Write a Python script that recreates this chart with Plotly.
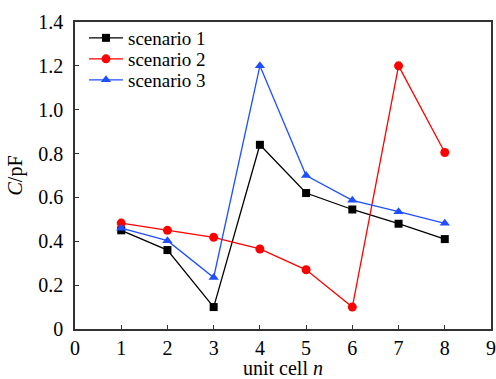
import plotly.graph_objects as go

cells = [1, 2, 3, 4, 5, 6, 7, 8]
scenario1 = [0.45, 0.36, 0.10, 0.84, 0.62, 0.545, 0.48, 0.41]
scenario2 = [0.483, 0.45, 0.418, 0.365, 0.27, 0.10, 1.20, 0.805]
scenario3 = [0.46, 0.403, 0.235, 1.20, 0.70, 0.587, 0.535, 0.482]
names = ["scenario 1", "scenario 2", "scenario 3"]

xtickvals = [0, 1, 2, 3, 4, 5, 6, 7, 8, 9]
ytickvals = [0, 0.2, 0.4, 0.6, 0.8, 1.0, 1.2, 1.4]
yticktext = ["0", "0.2", "0.4", "0.6", "0.8", "1.0", "1.2", "1.4"]

font = "Liberation Serif"
fs = 20

fig = go.Figure()
fig.add_trace(go.Scatter(x=cells, y=scenario1, name=names[0], mode="lines+markers",
                         line=dict(color="#000000", width=1.3), legend="legend",
                         marker=dict(symbol="square", size=8, color="#000000")))
fig.add_trace(go.Scatter(x=cells, y=scenario2, name=names[1], mode="lines+markers",
                         line=dict(color="#ff0000", width=1.3), legend="legend2",
                         marker=dict(symbol="circle", size=9, color="#ff0000")))
fig.add_trace(go.Scatter(x=cells, y=scenario3, name=names[2], mode="lines+markers",
                         line=dict(color="#1f4fff", width=1.3), legend="legend3",
                         marker=dict(symbol="triangle-up", size=9, color="#1f4fff")))

def leg(y):
    return dict(x=0.0216, y=y, xanchor="left", yanchor="middle",
                bgcolor="rgba(0,0,0,0)", font=dict(size=19, family=font, color="#000"),
                itemwidth=34)

fig.update_layout(
    width=496, height=379,
    margin=dict(l=75, r=5, t=22, b=50),
    paper_bgcolor="white", plot_bgcolor="white",
    font=dict(family=font, size=fs, color="#000000"),
    showlegend=True,
    legend=leg(0.9479),
    legend2=leg(0.8795),
    legend3=leg(0.8111),
)
fig.update_xaxes(range=[0, 9], tickvals=xtickvals, ticks="inside", ticklen=4,
                 tickcolor="#333", showline=True, linecolor="#333", linewidth=1.5,
                 mirror=True, showgrid=False, zeroline=False, automargin=False,
                 ticklabeloverflow="allow",
                 tickfont=dict(size=fs, family=font, color="#000"),
                 title=dict(text="unit cell <i>n</i>", font=dict(size=fs, family=font, color="#000"), standoff=2))
fig.update_yaxes(range=[0, 1.4], tickvals=ytickvals, ticktext=yticktext, ticks="inside",
                 ticklen=4, tickcolor="#333", showline=True, linecolor="#333", linewidth=1.5,
                 mirror=True, showgrid=False, zeroline=False, ticklabelstandoff=6, automargin=False,
                 tickfont=dict(size=fs, family=font, color="#000"),
                 title=dict(text="<i>C</i>/pF", font=dict(size=fs, family=font, color="#000"), standoff=10))

fig.write_html("out.html",
               config={"displayModeBar": False},
               post_script="document.body.style.margin='0';document.body.style.overflow='hidden';")
